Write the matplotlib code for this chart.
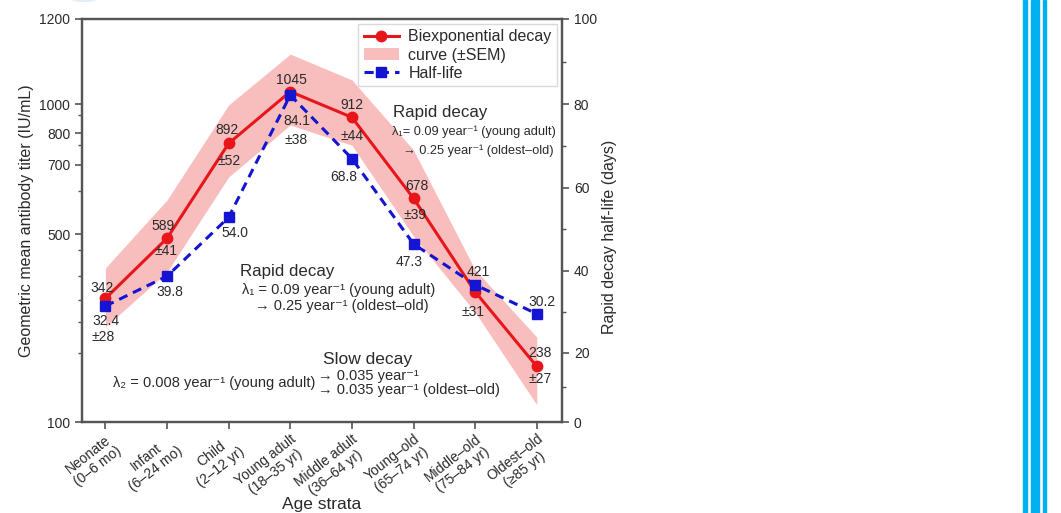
import numpy as np
import matplotlib
matplotlib.use("Agg")
import matplotlib.pyplot as plt
from matplotlib.ticker import FixedLocator, NullFormatter
from matplotlib.patches import Rectangle, Circle

plt.rcParams['font.family'] = ['Liberation Sans', 'DejaVu Sans']

# ---------- data ----------
strata = ["Neonate\n(0–6 mo)", "Infant\n(6–24 mo)", "Child\n(2–12 yr)",
          "Young adult\n(18–35 yr)", "Middle adult\n(36–64 yr)",
          "Young–old\n(65–74 yr)", "Middle–old\n(75–84 yr)",
          "Oldest–old\n(≥85 yr)"]
titer = [288, 482, 766, 1027, 903, 595, 305, 161]
titer_upper = [374, 590, 993, 1113, 1053, 745, 368, 207]
titer_lower = [226, 361, 660, 851, 760, 491, 256, 116]
halflife = [31.4, 38.7, 52.9, 82.1, 67.0, 46.5, 36.6, 29.5]

titer_text = ["342", "589", "892", "1045", "912", "678", "421", "238"]
sem_text = ["±28", "±41", "±52", "±38", "±44", "±39", "±31", "±27"]
hl_text = ["32.4", "39.8", "54.0", "84.1", "68.8", "47.3", "", "30.2"]

left_ticks = [100, 500, 700, 800, 1000, 1200]
left_minor = [180, 235, 285, 350, 435, 615, 760, 920]
right_ticks = [0, 20, 40, 60, 80, 100]
right_minor = [10, 30, 50, 70, 90]

# where each axis tick sits (fraction of axis height) in the original figure
left_frac = [0, 0.4665, 0.638, 0.717, 0.789, 1.0]
right_frac = [0, 0.172, 0.375, 0.581, 0.789, 1.0]


def piecewise(values, fracs, log=False):
    nodes = np.log10(values) if log else np.asarray(values, float)
    fracs = np.asarray(fracs, float)

    def fwd(v):
        v = np.asarray(v, float)
        t = np.log10(np.clip(v, 1e-6, None)) if log else v
        return np.interp(t, nodes, fracs)

    def inv(f):
        t = np.interp(np.asarray(f, float), fracs, nodes)
        return 10 ** t if log else t
    return fwd, inv


# label offsets in pixels (dx, dy)
titer_off = [(-3, 10), (-4, 12), (-2, 13), (1, 12), (0, 12), (3, 12), (3, 20), (3, 13)]
sem_off = [(-2, -39), (-1, -13), (0, -18), (6, -48), (0, -19), (1, -17), (-2, -20), (3, -13)]
hl_off = [(1, -15), (3, -16), (6, -16), (7, -26), (-8, -18), (-4, -18), (0, 0), (5, 12)]

RED = "#e8161b"
BLUE = "#1414d2"
TXT = "#2a2a2a"

fig = plt.figure(figsize=(10.61, 5.13), dpi=100)
ax = fig.add_axes([82 / 1061, 1 - 422 / 513, 480 / 1061, 403 / 513])
ax2 = ax.twinx()

x = np.arange(len(strata))

ax.set_yscale('function', functions=piecewise(left_ticks, left_frac, log=True))
ax2.set_yscale('function', functions=piecewise(right_ticks, right_frac))

band = ax.fill_between(x, titer_lower, titer_upper, color="#f6a8a8", alpha=0.75,
                       linewidth=0, label="curve (±SEM)")
line_r, = ax.plot(x, titer, "-o", color=RED, lw=2.2, ms=7.5, label="Biexponential decay")
line_b, = ax2.plot(x, halflife, "--s", color=BLUE, lw=2.2, ms=7.5, dashes=(3, 2),
                   label="Half-life")

ax.set_ylim(100, 1200)
ax2.set_ylim(0, 100)
ax.set_xlim(-0.38, 7.41)

ax.yaxis.set_major_locator(FixedLocator(left_ticks))
ax.yaxis.set_minor_locator(FixedLocator(left_minor))
ax.yaxis.set_minor_formatter(NullFormatter())
ax.set_yticklabels([str(t) for t in left_ticks])
ax2.yaxis.set_major_locator(FixedLocator(right_ticks))
ax2.yaxis.set_minor_locator(FixedLocator(right_minor))
ax2.yaxis.set_minor_formatter(NullFormatter())
ax2.set_yticklabels([str(t) for t in right_ticks])

ax.set_xticks(x)
ax.set_xticklabels(strata, rotation=38, ha="right", va="top", rotation_mode="anchor",
                   multialignment="center", fontsize=10, linespacing=1.15)

for a in (ax, ax2):
    for s in a.spines.values():
        s.set_color("#555555")
        s.set_linewidth(1.6)
    a.tick_params(which="major", length=5, width=1.2, color="#555555",
                  labelsize=10, labelcolor=TXT)
    a.tick_params(which="minor", length=3, width=1, color="#555555")
ax.tick_params(axis="x", labelsize=10, pad=2)

ax.set_ylabel("Geometric mean antibody titer (IU/mL)", fontsize=11.5, color=TXT, labelpad=4)
ax2.set_ylabel("Rapid decay half-life (days)", fontsize=11.5, color=TXT)
ax2.yaxis.set_label_coords(1.083, 0.46)
ax.set_xlabel("Age strata", fontsize=12.5, color=TXT)
ax.xaxis.set_label_coords(0.5, -0.186)

# value labels
for i in range(len(x)):
    ax.annotate(titer_text[i], (x[i], titer[i]), xytext=titer_off[i],
                textcoords="offset pixels", ha="center", va="center",
                fontsize=10, color=TXT)
    ax.annotate(sem_text[i], (x[i], titer[i]), xytext=sem_off[i],
                textcoords="offset pixels", ha="center", va="center",
                fontsize=10, color=TXT)
    if hl_text[i]:
        ax2.annotate(hl_text[i], (x[i], halflife[i]), xytext=hl_off[i],
                     textcoords="offset pixels", ha="center", va="center",
                     fontsize=10, color=TXT)

# decay annotations
tr = ax.transAxes
ax.text(0.647, 0.7675, "Rapid decay", transform=tr, fontsize=12.2, color=TXT, va="center")
ax.text(0.645, 0.720, "λ₁= 0.09 year⁻¹ (young adult)", transform=tr, fontsize=9.2, color=TXT, va="center")
ax.text(0.668, 0.673, "→ 0.25 year⁻¹ (oldest–old)", transform=tr, fontsize=9.2, color=TXT, va="center")

ax.text(0.329, 0.373, "Rapid decay", transform=tr, fontsize=12.2, color=TXT, va="center")
ax.text(0.333, 0.3275, "λ₁ = 0.09 year⁻¹ (young adult)", transform=tr, fontsize=10.5, color=TXT, va="center")
ax.text(0.360, 0.288, "→ 0.25 year⁻¹ (oldest–old)", transform=tr, fontsize=10.5, color=TXT, va="center")

ax.text(0.502, 0.154, "Slow decay", transform=tr, fontsize=12.5, color=TXT, va="center")
ax.text(0.0646, 0.0975, "λ₂ = 0.008 year⁻¹ (young adult)", transform=tr, fontsize=10.5, color=TXT, va="center")
ax.text(0.492, 0.114, "→ 0.035 year⁻¹", transform=tr, fontsize=10.5, color=TXT, va="center")
ax.text(0.492, 0.079, "→ 0.035 year⁻¹ (oldest–old)", transform=tr, fontsize=10.5, color=TXT, va="center")

leg = ax2.legend([line_r, band, line_b],
                 ["Biexponential decay", "curve (±SEM)", "Half-life"],
                 loc="upper right", fontsize=11.5, frameon=True, fancybox=False,
                 edgecolor="#d0d0d0", borderaxespad=0.3, handlelength=2.2,
                 handletextpad=0.6, labelspacing=0.2, borderpad=0.35)
for t in leg.get_texts():
    t.set_color(TXT)

# page decorations on the right edge
for x0, w in [(1023, 4), (1031, 8), (1043, 3)]:
    fig.patches.append(Rectangle((x0 / 1061, 0), w / 1061, 1, transform=fig.transFigure,
                                 color="#00b0f0", zorder=0))
fig.patches.append(Circle((84 / 1061, 1 - (-10) / 513), 0.022, transform=fig.transFigure,
                          color="#e3ecfa", zorder=0))

fig.savefig("out.png", dpi=100)
